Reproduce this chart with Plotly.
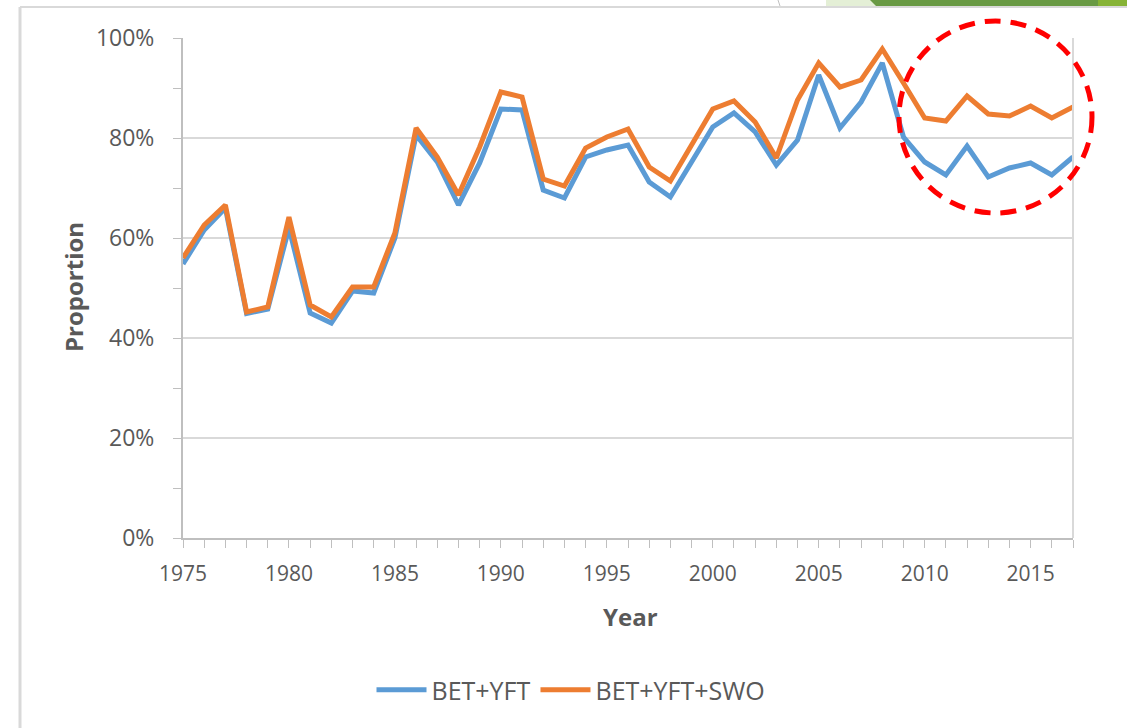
import plotly.graph_objects as go

years = list(range(1975, 2018))
bet_yft = [0.548, 0.616, 0.660, 0.449, 0.458, 0.620, 0.450, 0.430, 0.494, 0.490,
           0.600, 0.806, 0.752, 0.666, 0.750, 0.858, 0.856, 0.696, 0.680, 0.762,
           0.776, 0.786, 0.712, 0.682, 0.752, 0.822, 0.850, 0.812, 0.746, 0.796,
           0.926, 0.820, 0.872, 0.950, 0.802, 0.752, 0.726, 0.784, 0.722, 0.740,
           0.750, 0.726, 0.762]
bet_yft_swo = [0.560, 0.626, 0.666, 0.452, 0.462, 0.642, 0.466, 0.442, 0.502, 0.502,
               0.610, 0.820, 0.762, 0.686, 0.782, 0.892, 0.882, 0.718, 0.704, 0.780,
               0.802, 0.818, 0.742, 0.714, 0.786, 0.858, 0.874, 0.832, 0.760, 0.876,
               0.950, 0.902, 0.916, 0.978, 0.910, 0.840, 0.834, 0.884, 0.848, 0.844,
               0.864, 0.840, 0.862]

series_names = ["BET+YFT", "BET+YFT+SWO"]
series_colors = ["#5b9bd5", "#ed7d31"]

W, H = 1127, 728
L, R, T, B = 183, 54, 38, 190
pw, ph = W - L - R, H - T - B

def px(x):
    return (x - L) / pw

def py(y):
    return (H - B - y) / ph

fig = go.Figure()
for name, vals, col in zip(series_names, [bet_yft, bet_yft_swo], series_colors):
    fig.add_trace(go.Scatter(x=years, y=vals, mode="lines", name=name,
                             line=dict(color=col, width=5)))

axis_font = dict(family="Open Sans, sans-serif", size=21, color="#595959")
fig.update_layout(
    width=W, height=H,
    margin=dict(l=L, r=R, t=T, b=B, autoexpand=False),
    paper_bgcolor="white", plot_bgcolor="white",
    showlegend=True,
    legend=dict(orientation="h", x=px(571), xanchor="center", y=py(690), yanchor="middle",
                font=dict(family="Open Sans, sans-serif", size=25, color="#595959"),
                itemwidth=50, traceorder="normal", bgcolor="rgba(0,0,0,0)"),
    xaxis=dict(range=[1975, 2017], tick0=1975, dtick=5, showgrid=False,
               showline=True, linecolor="#bfbfbf", linewidth=2,
               ticks="outside", ticklen=8, tickcolor="#bfbfbf", tickwidth=1,
               minor=dict(dtick=1, tick0=1975, ticks="outside", ticklen=8, tickcolor="#bfbfbf", tickwidth=1),
               tickfont=axis_font, zeroline=False, ticklabelstandoff=8),
    yaxis=dict(range=[0, 1], tickformat=".0%", dtick=0.2, showgrid=True, gridcolor="#d9d9d9", gridwidth=1.5,
               showline=True, linecolor="#bfbfbf", linewidth=2,
               ticks="outside", ticklen=8, tickcolor="#bfbfbf", tickwidth=1,
               minor=dict(dtick=0.1, ticks="outside", ticklen=8, tickcolor="#bfbfbf", tickwidth=1, showgrid=False),
               tickfont=dict(family="Open Sans, sans-serif", size=23, color="#595959"),
               zeroline=False, ticklabelstandoff=14),
)

# axis titles
fig.add_annotation(text="<b>Year</b>", x=px(630), y=py(616), xref="paper", yref="paper",
                   xanchor="center", yanchor="middle",
                   showarrow=False, font=dict(family="Open Sans, sans-serif", size=24, color="#595959"))
fig.add_annotation(text="<b>Proportion</b>", x=px(73), y=py(287), xref="paper", yref="paper",
                   xanchor="center", yanchor="middle",
                   showarrow=False, textangle=-90,
                   font=dict(family="Open Sans, sans-serif", size=24, color="#595959"))

shapes = []
# right border of plot area
shapes.append(dict(type="line", xref="x domain", yref="y domain", x0=1, x1=1, y0=0, y1=1,
                   line=dict(color="#d9d9d9", width=2)))
# outer frame (left and top)
shapes.append(dict(type="line", xref="paper", yref="paper", x0=px(20), x1=px(20), y0=py(7), y1=py(728),
                   line=dict(color="#d9d9d9", width=3)))
shapes.append(dict(type="line", xref="paper", yref="paper", x0=px(20), x1=px(1127), y0=py(7), y1=py(7),
                   line=dict(color="#d9d9d9", width=2)))
# slide decorations at top right
shapes.append(dict(type="line", xref="paper", yref="paper", x0=px(778), x1=px(780), y0=py(0), y1=py(6),
                   line=dict(color="#bfbfbf", width=1)))
shapes.append(dict(type="rect", xref="paper", yref="paper", x0=px(826), x1=px(880), y0=py(6), y1=py(0),
                   fillcolor="#e4efd6", line=dict(width=0)))
shapes.append(dict(type="path", xref="paper", yref="paper",
                   path=f"M {px(876)},{py(6)} L {px(1098)},{py(6)} L {px(1098)},{py(0)} L {px(870)},{py(0)} Z",
                   fillcolor="#699a44", line=dict(width=0)))
shapes.append(dict(type="rect", xref="paper", yref="paper", x0=px(1098), x1=px(1127), y0=py(6), y1=py(0),
                   fillcolor="#86b336", line=dict(width=0)))
# red dashed circle highlight
shapes.append(dict(type="circle", xref="paper", yref="paper",
                   x0=px(899), x1=px(1092), y0=py(213), y1=py(21),
                   line=dict(color="#ff0000", width=5, dash="16px,10px")))
fig.update_layout(shapes=shapes)

fig.write_html("out.html", config={"displayModeBar": False},
               post_script="document.body.style.margin='0';document.body.style.overflow='hidden';")
